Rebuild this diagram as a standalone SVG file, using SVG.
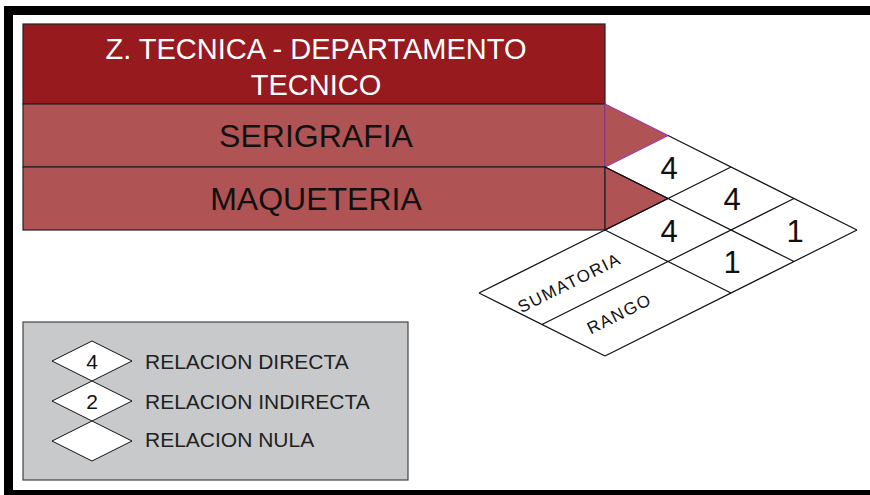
<svg xmlns="http://www.w3.org/2000/svg" width="870" height="495" viewBox="0 0 870 495">
<style>
.hdr{fill:#961a1e;stroke:#222;stroke-width:1.2}
.row{fill:#b05354;stroke:#222;stroke-width:1.2}
.grid{fill:none;stroke:#111;stroke-width:1.2}
.t{font-family:"Liberation Sans",Arial,sans-serif;text-anchor:middle}
.num{font-family:"Liberation Sans",Arial,sans-serif;font-size:31px;text-anchor:middle;fill:#111}
.lnum{font-family:"Liberation Sans",Arial,sans-serif;font-size:21px;text-anchor:middle;fill:#111}
.lg{font-family:"Liberation Sans",Arial,sans-serif;font-size:21px;fill:#222}
.dia{fill:#fff;stroke:#111;stroke-width:1}
</style>
<rect x="0" y="0" width="870" height="495" fill="#fff"/>
<rect x="8.5" y="10.5" width="880" height="484" fill="none" stroke="#000" stroke-width="9"/>

<g id="header">
<rect class="hdr" x="23" y="24" width="582" height="80"/>
<text class="t" x="316" y="59" font-size="29" fill="#fff">Z. TECNICA - DEPARTAMENTO</text>
<text class="t" x="316" y="95" font-size="29" fill="#fff">TECNICO</text>
</g>
<g id="serigrafia">
<rect class="row" x="23" y="104" width="582" height="63"/>
<polygon points="605,104 668,135.5 605,167" fill="#b05354" stroke="#a23aa8" stroke-width="1.3"/>
<text class="t" x="316" y="147" font-size="32" fill="#111">SERIGRAFIA</text>
</g>
<g id="maqueteria">
<rect class="row" x="23" y="167" width="582" height="63"/>
<polygon points="605,167 668,198.5 605,230" fill="#b05354" stroke="#222" stroke-width="1.2"/>
<text class="t" x="316" y="210" font-size="32" fill="#111">MAQUETERIA</text>
</g>

<g id="connectors">
<path class="grid" d="M668,135.5 L857,230 M605,167 L794,261.5 M605,230 L731,293 M479,293 L605,356 M479,293 L731,167 M542,324.5 L794,198.5 M605,356 L857,230"/>
</g>

<g id="matrix">
<text class="num" x="669" y="179">4</text>
<text class="num" x="732" y="210">4</text>
<text class="num" x="669" y="242">4</text>
<text class="num" x="795" y="242">1</text>
<text class="num" x="732" y="273">1</text>
<text class="t" font-size="17" letter-spacing="1.5" fill="#111" transform="translate(572,288) rotate(-26.57)">SUMATORIA</text>
<text class="t" font-size="17" letter-spacing="1.5" fill="#111" transform="translate(622,319) rotate(-26.57)">RANGO</text>
</g>

<g id="legend">
<rect x="23" y="322" width="385" height="158" fill="#c8c9cb" stroke="#444" stroke-width="1.2"/>
<polygon class="dia" points="52,361 92,341 132,361 92,381"/>
<text class="lnum" x="92" y="369">4</text>
<polygon class="dia" points="52,401 92,381 132,401 92,421"/>
<text class="lnum" x="92" y="409">2</text>
<polygon class="dia" points="52,441 92,421 132,441 92,461"/>
<text class="lg" x="145" y="369">RELACION DIRECTA</text>
<text class="lg" x="145" y="409">RELACION INDIRECTA</text>
<text class="lg" x="145" y="447">RELACION NULA</text>
</g>
</svg>
